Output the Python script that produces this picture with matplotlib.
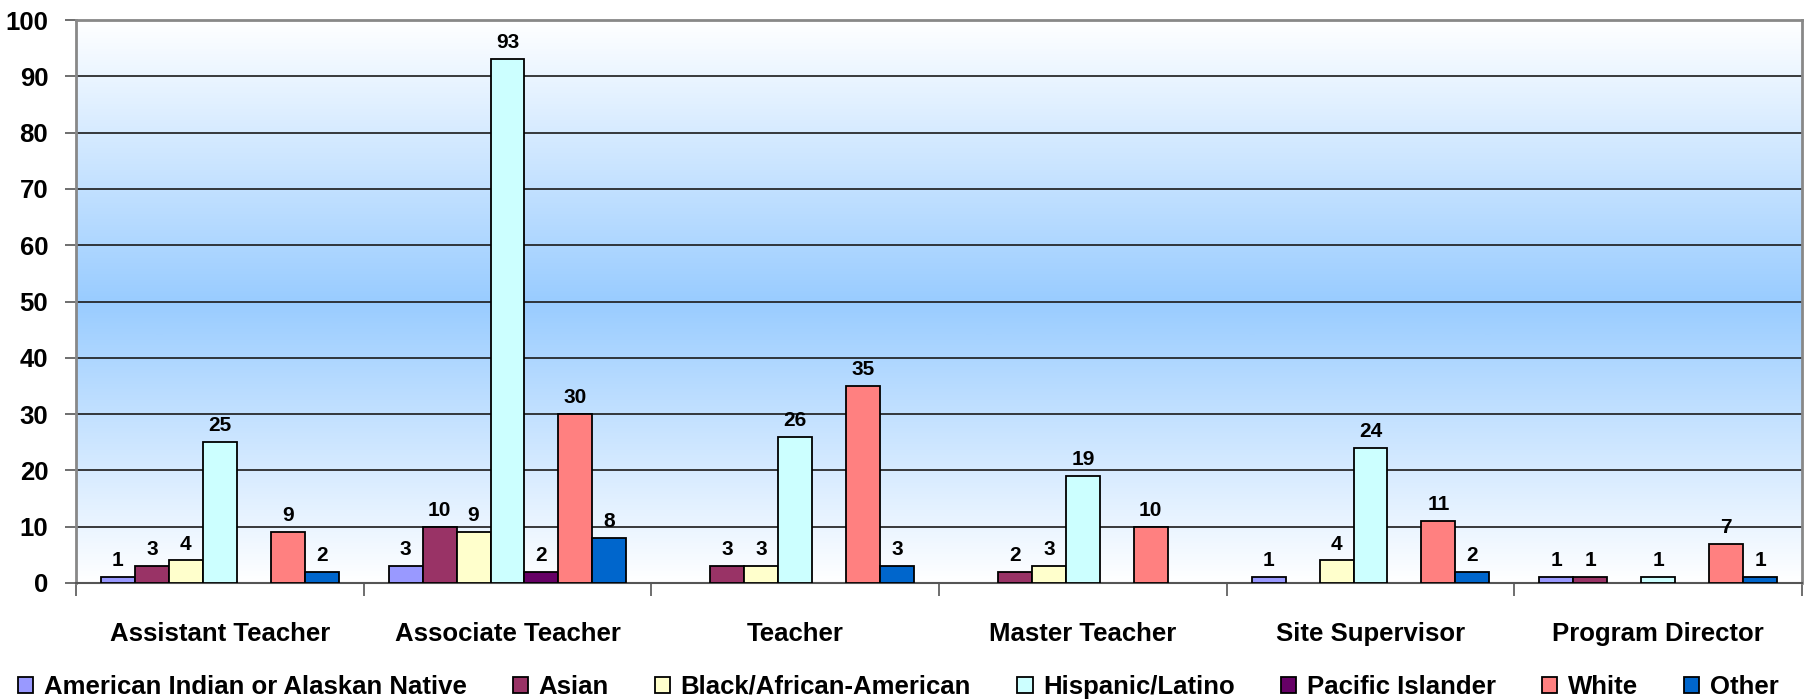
import numpy as np
import matplotlib
matplotlib.use('Agg')
import matplotlib.pyplot as plt
from matplotlib.colors import LinearSegmentedColormap
from matplotlib.ticker import FixedLocator
from matplotlib.patches import Patch

plt.rcParams['font.family'] = ['Liberation Sans', 'DejaVu Sans']
plt.rcParams['font.weight'] = 'bold'

# Job categories and counts per ethnicity (None = no bar)
categories = ['Assistant Teacher', 'Associate Teacher', 'Teacher',
              'Master Teacher', 'Site Supervisor', 'Program Director']
series_names = ['American Indian or Alaskan Native', 'Asian', 'Black/African-American',
                'Hispanic/Latino', 'Pacific Islander', 'White', 'Other']
american_indian = [1, 3, None, None, 1, 1]
asian = [3, 10, 3, 2, None, 1]
black = [4, 9, 3, 3, 4, None]
hispanic = [25, 93, 26, 19, 24, 1]
pacific = [None, 2, None, None, None, None]
white = [9, 30, 35, 10, 11, 7]
other = [2, 8, 3, None, 2, 1]
series_values = [american_indian, asian, black, hispanic, pacific, white, other]
colors = ['#9999FF', '#993366', '#FFFFCC', '#CCFFFF', '#660066', '#FF8080', '#0066CC']
y_ticks = [0, 10, 20, 30, 40, 50, 60, 70, 80, 90, 100]

fig = plt.figure(figsize=(18.07, 7.0), dpi=100)
ax = fig.add_axes([76 / 1807, 1 - 583 / 700, 1726 / 1807, 563 / 700])

# background gradient white -> blue -> white
cmap = LinearSegmentedColormap.from_list('bg', ['#FFFFFF', '#99CCFF', '#FFFFFF'])
grad = np.linspace(0, 1, 256).reshape(-1, 1)
ax.imshow(grad, aspect='auto', cmap=cmap, extent=[-0.5, 5.5, 0, 100],
          origin='lower', zorder=0)

x = np.arange(len(categories))
width = 0.118
handles = []
for j, (name, vals, col) in enumerate(zip(series_names, series_values, colors)):
    pos = [xi + (j - 3) * width for xi, v in zip(x, vals) if v is not None]
    hts = [v for v in vals if v is not None]
    ax.bar(pos, hts, width, color=col, edgecolor='black', linewidth=1.3, zorder=3)
    for p, v in zip(pos, hts):
        ax.annotate(str(v), (p, v), xytext=(0, 5), textcoords='offset points',
                    ha='center', va='bottom', fontsize=15, fontweight='bold', zorder=4)
    handles.append(Patch(facecolor=col, edgecolor='black', linewidth=1.3, label=name))

ax.set_xlim(-0.5, 5.5)
ax.set_ylim(0, 100)
ax.set_yticks(y_ticks)
ax.yaxis.grid(True, color='#1a1a1a', linewidth=1.2, zorder=1)
ax.set_axisbelow(True)
ax.tick_params(axis='y', labelsize=18.5, length=8, width=1.2, pad=12, color='#555555')

ax.xaxis.set_major_locator(FixedLocator(np.arange(-0.5, 6.0, 1.0)))
ax.xaxis.set_minor_locator(FixedLocator(x))
ax.set_xticklabels([], minor=False)
ax.set_xticklabels(categories, minor=True)
ax.tick_params(axis='x', which='major', length=9, width=1.2, color='#555555')
ax.tick_params(axis='x', which='minor', length=0, labelsize=18.5, pad=28)

for side in ['top', 'right', 'left']:
    ax.spines[side].set_color('#888888')
    ax.spines[side].set_linewidth(2)
ax.spines['bottom'].set_color('#555555')
ax.spines['bottom'].set_linewidth(1.5)

fig.legend(handles=handles, loc='center', bbox_to_anchor=(0.497, 1 - 687 / 700), ncol=7,
           frameon=False, fontsize=18.5, handlelength=0.6, handleheight=0.6,
           handletextpad=0.4, columnspacing=1.8, borderaxespad=0)

fig.savefig('out.png', dpi=100)
